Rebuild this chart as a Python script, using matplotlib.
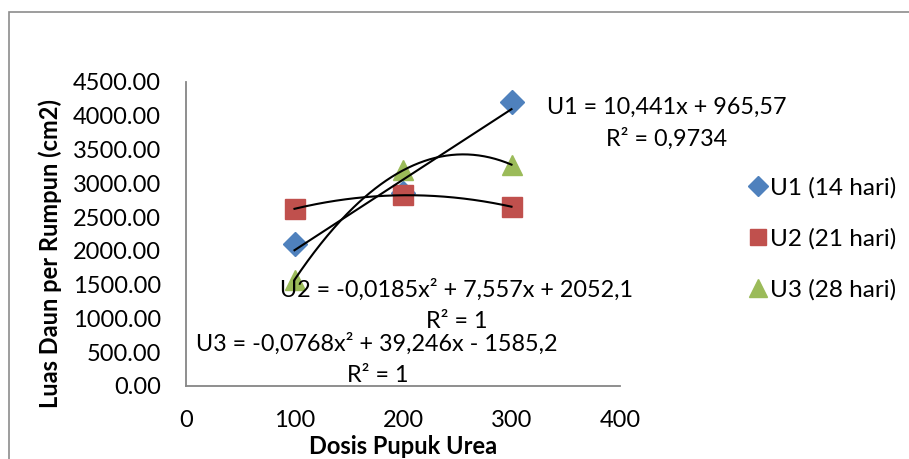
import matplotlib
matplotlib.use('Agg')
import matplotlib.pyplot as plt
import numpy as np
from matplotlib.patches import Rectangle

# --- data ---
dosis = np.array([100, 200, 300])
u1 = np.array([2109.3, 2854.5, 4197.6])   # 14 hari
u2 = np.array([2622.8, 2823.5, 2654.2])   # 21 hari
u3 = np.array([1571.4, 3192.0, 3276.6])   # 28 hari
labels = ['U1 (14 hari)', 'U2 (21 hari)', 'U3 (28 hari)']
y_ticks = np.arange(0, 4501, 500)
x_ticks = [0, 100, 200, 300, 400]

BLUE = '#4F81BD'
RED = '#C0504D'
GREEN = '#9BBB59'
AXIS_GRAY = '#868686'

plt.rcParams['font.family'] = ['Lato', 'DejaVu Sans']

W, H = 909, 459
fig = plt.figure(figsize=(W / 100, H / 100), dpi=100, facecolor='white')

# chart area border (only left/top visible in the crop)
fig.patches.append(Rectangle((9 / W, -0.1), 1.2, (H - 12) / H + 0.1, transform=fig.transFigure,
                             fill=False, edgecolor='#8c8c8c', linewidth=1.2))

ax = fig.add_axes([186 / W, (H - 386) / H, (620 - 186) / W, (386 - 82) / H])
ax.set_xlim(0, 400)
ax.set_ylim(0, 4500)
for s in ['top', 'right']:
    ax.spines[s].set_visible(False)
for s in ['left', 'bottom']:
    ax.spines[s].set_color(AXIS_GRAY)
    ax.spines[s].set_linewidth(1.3)
ax.set_xticks(x_ticks)
ax.set_yticks(y_ticks)
ax.set_yticklabels([f'{v:.2f}' for v in y_ticks])
ax.tick_params(length=0, labelsize=17)
ax.tick_params(axis='y', pad=18)
ax.tick_params(axis='x', pad=17)

# markers
ax.plot(dosis, u1, 'D', color=BLUE, markersize=12, label=labels[0], zorder=3)
ax.plot(dosis, u2, 's', color=RED, markersize=14, label=labels[1], zorder=3)
ax.plot(dosis, u3, '^', color=GREEN, markersize=15, label=labels[2], zorder=3)

# trendlines
xs = np.linspace(dosis.min(), dosis.max(), 200)
ax.plot(xs, np.polyval(np.polyfit(dosis, u1, 1), xs), color='black', lw=1.5, zorder=4)
ax.plot(xs, np.polyval(np.polyfit(dosis, u2, 2), xs), color='black', lw=1.5, zorder=4)
ax.plot(xs, np.polyval(np.polyfit(dosis, u3, 2), xs), color='black', lw=1.5, zorder=4)

# trendline equations
fs = 16.8
fig.text(667 / W, 1 - 107 / H, 'U1 = 10,441x + 965,57', ha='center', va='center', fontsize=fs)
fig.text(667 / W, 1 - 139 / H, 'R² = 0,9734', ha='center', va='center', fontsize=fs)
fig.text(280 / W, 1 - 290 / H, 'U2 = -0,0185x² + 7,557x + 2052,1', ha='left', va='center', fontsize=fs)
fig.text(457 / W, 1 - 322 / H, 'R² = 1', ha='center', va='center', fontsize=fs)
fig.text(196 / W, 1 - 344 / H, 'U3 = -0,0768x² + 39,246x - 1585,2', ha='left', va='center', fontsize=fs)
fig.text(378 / W, 1 - 375 / H, 'R² = 1', ha='center', va='center', fontsize=fs)

ax.set_xlabel('Dosis Pupuk Urea', fontsize=17, fontweight='bold', labelpad=3)
ax.set_ylabel('Luas Daun per Rumpun (cm2)', fontsize=17, fontweight='bold', va='center')
ax.yaxis.set_label_coords((50 - 186) / 434, (386 - 253) / 304)

leg = ax.legend(loc='center left', bbox_to_anchor=(1.27, 0.484), frameon=False, fontsize=17.5,
                handletextpad=0.05, handlelength=0.9, labelspacing=1.2, markerscale=0.85,
                borderaxespad=0)

fig.savefig('out.png', dpi=100, facecolor='white')
